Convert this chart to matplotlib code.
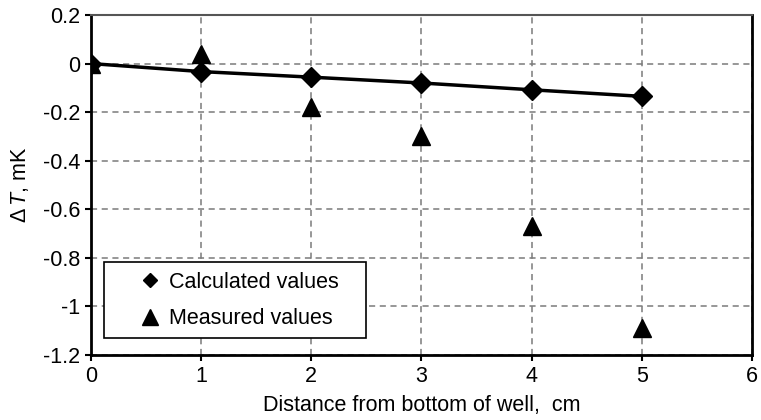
import matplotlib.pyplot as plt
from matplotlib.ticker import FuncFormatter, MultipleLocator
from matplotlib.lines import Line2D
from matplotlib.patches import Rectangle

plt.rcParams['font.family'] = ['Liberation Sans', 'DejaVu Sans']
plt.rcParams['mathtext.fontset'] = 'custom'
plt.rcParams['mathtext.rm'] = 'Liberation Sans'
plt.rcParams['mathtext.it'] = 'Liberation Sans:italic'

# data
distancia = [0, 1, 2, 3, 4, 5]
calculados = [0.0, -0.033, -0.056, -0.080, -0.108, -0.135]
medidos = [0.0, 0.04, -0.18, -0.30, -0.67, -1.09]
rotulos = ['Calculated values', 'Measured values']

fs = 15.5
fig = plt.figure(figsize=(7.61, 4.20), dpi=100)
ax = fig.add_axes([0.1196, 0.1548, 0.8684, 0.8095])

ax.plot(distancia, calculados, color='black', lw=2.5, marker='D', ms=10,
        zorder=3)
ax.plot(distancia, medidos, color='black', lw=0, marker='^', ms=13,
        zorder=4)

ax.set_xlim(0, 6)
ax.set_ylim(-1.2, 0.2)
ax.xaxis.set_major_locator(MultipleLocator(1))
ax.yaxis.set_major_locator(MultipleLocator(0.2))
fmt = FuncFormatter(lambda v, p: f'{v:g}'.replace('\u2212', '-'))
ax.xaxis.set_major_formatter(fmt)
ax.yaxis.set_major_formatter(fmt)

ax.grid(True, color='#7a7a7a', linestyle=(0, (4, 3)), lw=1.1)
ax.set_axisbelow(True)

for s in ['left', 'bottom', 'right']:
    ax.spines[s].set_linewidth(2)
    ax.spines[s].set_color('black')
ax.spines['top'].set_linewidth(1.5)
ax.spines['top'].set_color('#555555')

ax.tick_params(direction='out', length=4, width=1.5, labelsize=fs, pad=4,
               top=False, right=False)

ax.set_xlabel('Distance from bottom of well,  cm', fontsize=fs, labelpad=6)
ax.set_ylabel(r'$\Delta\,T$, mK', fontsize=fs, labelpad=8)

# legend box drawn separately, legend entries without frame
caixa = Rectangle((0.0197, 0.05), 0.396, 0.224, transform=ax.transAxes,
                  facecolor='white', edgecolor='black', lw=1.2, zorder=5)
ax.add_patch(caixa)
alcas = [Line2D([], [], color='black', lw=0, marker='D', ms=7),
         Line2D([], [], color='black', lw=0, marker='^', ms=11)]
leg = ax.legend(alcas, rotulos, loc='center left',
                bbox_to_anchor=(0.0726, 0.160), fontsize=fs, frameon=False,
                borderaxespad=0, borderpad=0, handlelength=1.0,
                handletextpad=0.4, labelspacing=0.72)
leg.set_zorder(6)

fig.savefig('out.png', dpi=100)
